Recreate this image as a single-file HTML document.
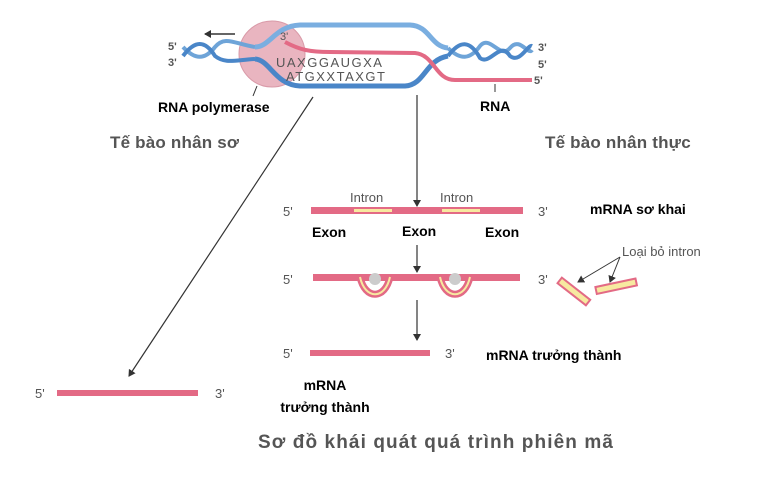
<!DOCTYPE html>
<html><head><meta charset="utf-8"><style>
body{margin:0;background:#fff;}
svg{display:block;}
.s{font-family:"Liberation Sans",sans-serif;fill:#555;}
.b{font-family:"Liberation Sans","Noto Sans CJK SC",sans-serif;fill:#000;font-weight:bold;}
</style></head><body>
<svg width="767" height="492" viewBox="0 0 767 492" xmlns="http://www.w3.org/2000/svg">
<defs><marker id="ah" markerWidth="8" markerHeight="8" refX="6" refY="4" orient="auto" markerUnits="userSpaceOnUse"><path d="M0,0 L7,4 L0,8 z" fill="#333"/></marker></defs>
<circle cx="272" cy="54" r="33" fill="#e9b5c0" stroke="#d99aa8"/>
<path d="M183,47 C195,60 205,60 215,47 C225,35 235,44 255,47" stroke="#6ea4d8" stroke-width="4" fill="none"/>
<path d="M183,56 C195,40 205,40 215,56 C225,64 235,60 255,59" stroke="#4a86c8" stroke-width="4" fill="none"/>
<path d="M255,47 C270,47 275,26 300,25 L410,25 C430,26 430,46 448,48" stroke="#7aaee0" stroke-width="5" fill="none"/>
<path d="M255,59 C270,60 275,85 300,86 L405,86 C425,85 425,60 448,56" stroke="#4a86c8" stroke-width="5" fill="none"/>
<path d="M448,48 C460,60 470,60 480,46 C490,34 500,60 510,48 C520,36 528,56 532,50" stroke="#6ea4d8" stroke-width="4" fill="none"/>
<path d="M448,56 C460,40 470,40 480,58 C490,66 500,40 510,56 C520,64 528,44 532,46" stroke="#4a86c8" stroke-width="4" fill="none"/>
<path d="M285,42 C300,50 310,52 330,52 L415,53 C435,55 435,80 455,80 L532,80" stroke="#e36a85" stroke-width="4" fill="none"/>
<text x="280" y="40" class="s" font-size="11" fill="#333">3'</text>
<text x="276" y="67" class="s" font-size="13" fill="#333" letter-spacing="1.5">UAXGGAUGXA</text>
<text x="286" y="81" class="s" font-size="13" fill="#333" letter-spacing="1.5">ATGXXTAXGT</text>
<text x="168" y="50" class="s" font-size="11" font-weight="bold">5'</text>
<text x="168" y="66" class="s" font-size="11" font-weight="bold">3'</text>
<text x="538" y="51" class="s" font-size="11" font-weight="bold">3'</text>
<text x="538" y="68" class="s" font-size="11" font-weight="bold">5'</text>
<text x="534" y="84" class="s" font-size="11" font-weight="bold">5'</text>
<line x1="235" y1="34" x2="205" y2="34" stroke="#333" stroke-width="1.5" marker-end="url(#ah)"/>
<line x1="257" y1="86" x2="253" y2="96" stroke="#333"/>
<line x1="495" y1="84" x2="495" y2="92" stroke="#333"/>
<text x="158" y="112" class="b" font-size="14">RNA polymerase</text>
<text x="480" y="111" class="b" font-size="14">RNA</text>
<text x="110" y="148" class="s" font-size="17" font-weight="bold" fill="#333" letter-spacing="0.2">Tế bào nhân sơ</text>
<text x="545" y="148" class="s" font-size="17" font-weight="bold" fill="#333" letter-spacing="0.2">Tế bào nhân thực</text>
<line x1="313" y1="97" x2="129" y2="376" stroke="#333" stroke-width="1.2" marker-end="url(#ah)"/>
<line x1="417" y1="95" x2="417" y2="206" stroke="#333" stroke-width="1.2" marker-end="url(#ah)"/>
<line x1="417" y1="245" x2="417" y2="272" stroke="#333" stroke-width="1.2" marker-end="url(#ah)"/>
<line x1="417" y1="300" x2="417" y2="340" stroke="#333" stroke-width="1.2" marker-end="url(#ah)"/>
<rect x="311" y="207" width="212" height="7" fill="#e36a85"/>
<rect x="354" y="209" width="38" height="3" fill="#f7e9a0"/>
<rect x="442" y="209" width="38" height="3" fill="#f7e9a0"/>
<text x="350" y="202" class="s" font-size="13">Intron</text>
<text x="440" y="202" class="s" font-size="13">Intron</text>
<text x="283" y="216" class="s" font-size="13">5'</text>
<text x="538" y="216" class="s" font-size="13">3'</text>
<text x="590" y="214" class="b" font-size="14">mRNA sơ khai</text>
<text x="312" y="237" class="b" font-size="14">Exon</text>
<text x="402" y="236" class="b" font-size="14">Exon</text>
<text x="485" y="237" class="b" font-size="14">Exon</text>
<rect x="313" y="274" width="207" height="7" fill="#e36a85"/>
<path d="M360,277 C365,300 385,300 390,277" stroke="#e36a85" stroke-width="7" fill="none"/>
<path d="M360,277 C365,300 385,300 390,277" stroke="#f7e9a0" stroke-width="2" fill="none"/>
<path d="M440,277 C445,300 465,300 470,277" stroke="#e36a85" stroke-width="7" fill="none"/>
<path d="M440,277 C445,300 465,300 470,277" stroke="#f7e9a0" stroke-width="2" fill="none"/>
<circle cx="375" cy="279" r="6" fill="#ccc"/><circle cx="455" cy="279" r="6" fill="#ccc"/>
<text x="283" y="284" class="s" font-size="13">5'</text>
<text x="538" y="284" class="s" font-size="13">3'</text>
<g transform="translate(560,280) rotate(38)"><rect x="0" y="-3" width="36" height="7" fill="#f7e9a0" stroke="#e36a85" stroke-width="2"/></g>
<g transform="translate(596,290) rotate(-12)"><rect x="0" y="-3" width="41" height="7" fill="#f7e9a0" stroke="#e36a85" stroke-width="2"/></g>
<line x1="620" y1="257" x2="578" y2="282" stroke="#333" marker-end="url(#ah)"/>
<line x1="620" y1="257" x2="610" y2="282" stroke="#333" marker-end="url(#ah)"/>
<text x="622" y="256" class="s" font-size="13">Loại bỏ intron</text>
<rect x="310" y="350" width="120" height="6" fill="#e36a85"/>
<text x="283" y="358" class="s" font-size="13">5'</text>
<text x="445" y="358" class="s" font-size="13">3'</text>
<text x="486" y="360" class="b" font-size="14">mRNA trưởng thành</text>
<rect x="57" y="390" width="141" height="6" fill="#e36a85"/>
<text x="35" y="398" class="s" font-size="13">5'</text>
<text x="215" y="398" class="s" font-size="13">3'</text>
<text x="325" y="390" class="b" font-size="14" text-anchor="middle">mRNA</text>
<text x="325" y="412" class="b" font-size="14" text-anchor="middle">trưởng thành</text>
<text x="258" y="448" class="s" font-size="19" font-weight="bold" fill="#333" letter-spacing="1.1">Sơ đồ khái quát quá trình phiên mã</text>
</svg>
</body></html>
